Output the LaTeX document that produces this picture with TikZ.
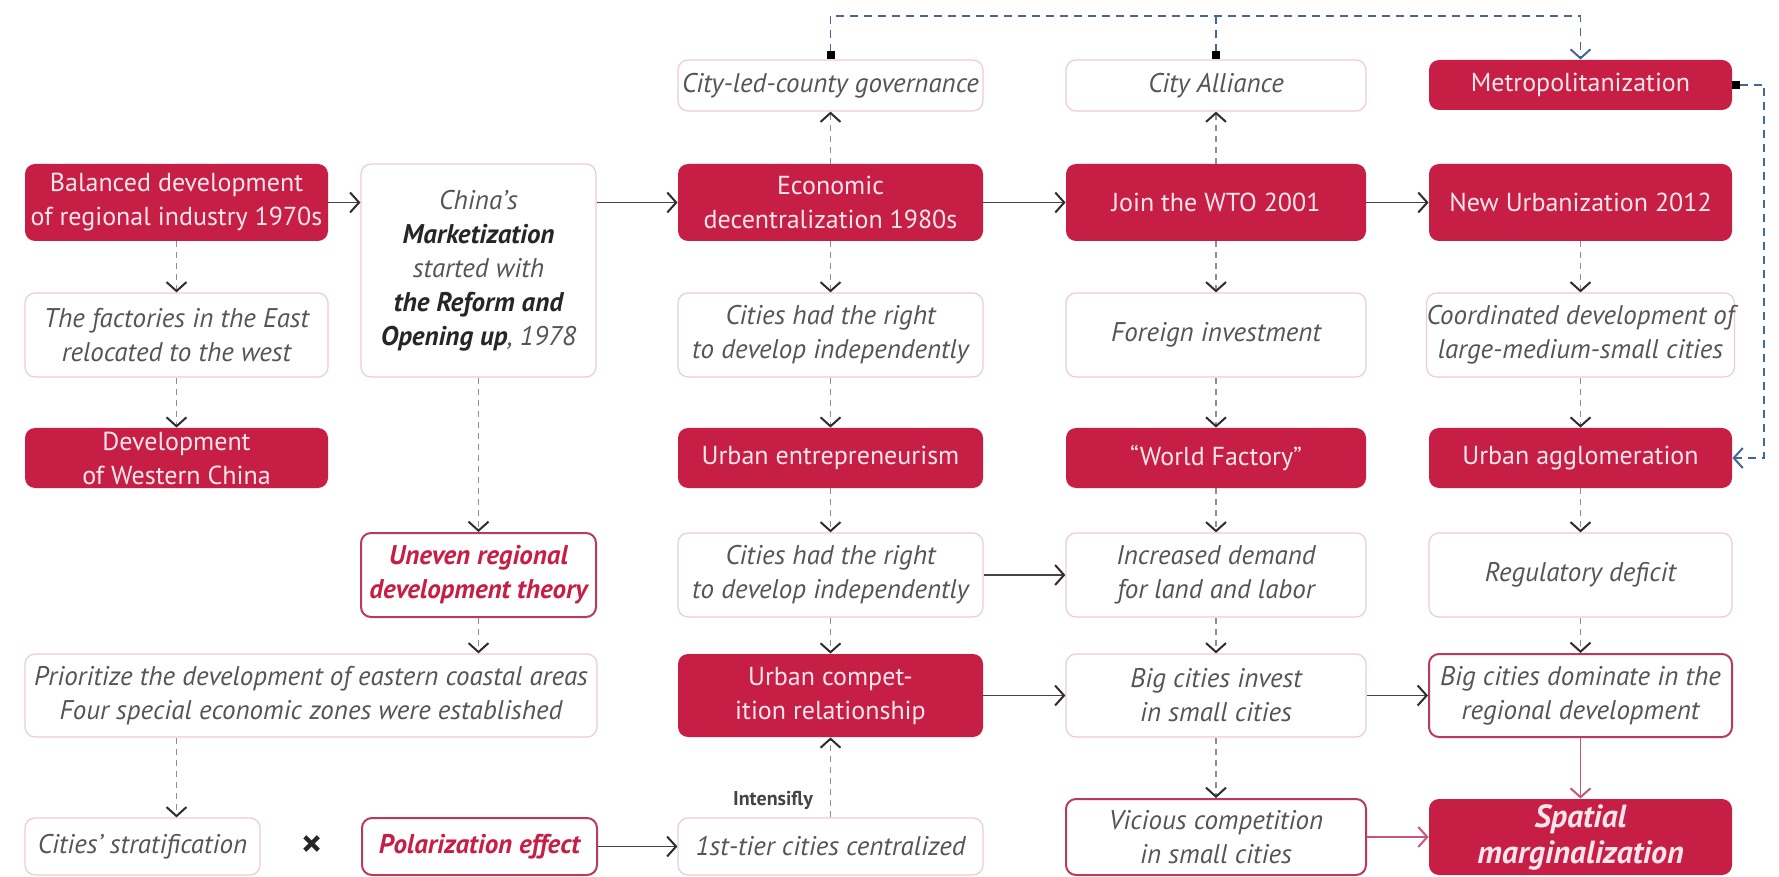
\documentclass[tikz,border=0pt]{standalone}
\usepackage{fontspec}
\setmainfont{PT Sans}
\usetikzlibrary{arrows.meta}
\definecolor{crim}{HTML}{C71E46}
\definecolor{pinkwhite}{HTML}{FBE6EC}
\definecolor{lightpink}{HTML}{EDCCD4}
\definecolor{crimline}{HTML}{B83A5C}
\definecolor{txtgray}{HTML}{555555}
\definecolor{linegray}{HTML}{8E8E8E}
\definecolor{tipgray}{HTML}{2E2E2E}
\definecolor{solidgray}{HTML}{444444}
\definecolor{redline}{HTML}{C8557A}
\definecolor{slate}{HTML}{44679A}
\tikzset{
  base/.style={rounded corners=5pt, align=center, inner sep=0pt, font=\fontsize{13}{17}\selectfont},
  sz/.style 2 args={minimum width=#1*0.5pt, minimum height=#2*0.5pt},
  fbox/.style={base, fill=crim, text=pinkwhite},
  obox/.style={base, draw=lightpink, line width=0.6pt, text=txtgray, font=\fontsize{13.5}{17}\selectfont\itshape},
  ebox/.style={base, draw=crimline, line width=1pt, text=txtgray, font=\fontsize{13.5}{17}\selectfont\itshape},
  eboxr/.style={ebox, text=crim, font=\fontsize{13.5}{17}\selectfont\itshape\bfseries},
  sarrow/.style={draw=solidgray, line width=0.8pt, -{Straight Barb[length=4.5pt,width=10pt,line width=1pt,color=tipgray]}},
  rarrow/.style={draw=redline, line width=0.9pt, -{Straight Barb[length=4.5pt,width=10pt,line width=1pt,color=redline]}},
  darrow/.style={draw=linegray, line width=0.9pt, dash pattern=on 3pt off 2.5pt, -{Straight Barb[length=4.5pt,width=10pt,line width=1pt,color=tipgray]}},
  bdash/.style={draw=slate, line width=0.9pt, dash pattern=on 4pt off 3pt},
  dot/.style={{Square[length=4pt,width=4pt,color=black]}-},
  dotbtip/.style={{Square[length=4pt,width=4pt,color=black]}-{Straight Barb[length=4.5pt,width=10pt,line width=1pt,color=slate]}}
}
\begin{document}
\begin{tikzpicture}[x=0.5pt,y=-0.5pt]
\useasboundingbox[fill=white] (0,0) rectangle (1779,877);

% column 1 and 2
\node[fbox, sz={303}{77}] (bal) at (176.5,202.5) {Balanced development\\of regional industry 1970s};
\node[obox, sz={235}{213}] (china) at (478.5,270.5) {China's\\{\color{black!85}\bfseries Marketization}\\started with\\{\color{black!85}\bfseries the Reform and}\\{\color{black!85}\bfseries Opening up}, 1978};
\node[obox, sz={303}{84}] (fac) at (176.5,335) {The factories in the East\\relocated to the west};
\node[fbox, sz={303}{60}] (dev) at (176.5,458) {Development\\of Western China};
\node[eboxr, sz={235}{84}] (unev) at (478.5,575) {Uneven regional\\development theory};
\node[obox, sz={572}{83}] (prio) at (311,695.5) {Prioritize the development of eastern coastal areas\\Four special economic zones were established};
\node[obox, sz={235}{57}] (strat) at (142.5,846.5) {Cities' stratification};
\node[text=black!85, font=\fontsize{20}{20}\selectfont\bfseries] (times) at (312,846.5) {×};
\node[eboxr, sz={235}{57}] (pol) at (479.5,846.5) {Polarization effect};

% column 3
\node[obox, sz={305}{51}] (cl) at (830.5,85.5) {City-led-county governance};
\node[fbox, sz={305}{77}] (eco) at (830.5,202.5) {Economic\\decentralization 1980s};
\node[obox, sz={305}{84}] (right1) at (830.5,335) {Cities had the right\\to develop independently};
\node[fbox, sz={305}{60}] (entre) at (830.5,458) {Urban entrepreneurism};
\node[obox, sz={305}{84}] (right2) at (830.5,575) {Cities had the right\\to develop independently};
\node[fbox, sz={305}{83}] (comp) at (830.5,695.5) {Urban compet-\\ition relationship};
\node[obox, sz={305}{57}] (tier) at (830.5,846.5) {1st-tier cities centralized};
\node[text=txtgray!80!black, font=\fontsize{10}{11}\selectfont\bfseries] (int) at (773,800) {Intensifly};

% column 4
\node[obox, sz={300}{51}] (ca) at (1216,85.5) {City Alliance};
\node[fbox, sz={300}{77}] (wto) at (1216,202.5) {Join the WTO 2001};
\node[obox, sz={300}{84}] (fdi) at (1216,335) {Foreign investment};
\node[fbox, sz={300}{60}] (wf) at (1216,458) {“World Factory”};
\node[obox, sz={300}{84}] (dem) at (1216,575) {Increased demand\\for land and labor};
\node[obox, sz={300}{83}] (inv) at (1216,695.5) {Big cities invest\\in small cities};
\node[ebox, sz={300}{76}] (vic) at (1216,837) {Vicious competition\\in small cities};

% column 5
\node[fbox, sz={303}{50}] (met) at (1580.5,85) {Metropolitanization};
\node[fbox, sz={303}{77}] (nu) at (1580.5,202.5) {New Urbanization 2012};
\node[obox, sz={303}{84}] (coord) at (1580.5,335) {Coordinated development of\\large-medium-small cities};
\node[fbox, sz={303}{60}] (agg) at (1580.5,458) {Urban agglomeration};
\node[obox, sz={303}{84}] (reg) at (1580.5,575) {Regulatory deficit};
\node[ebox, sz={303}{83}] (dom) at (1580.5,695.5) {Big cities dominate in the\\regional development};
\node[fbox, sz={303}{76}, font=\fontsize{16}{18}\selectfont\itshape\bfseries] (spat) at (1580.5,837) {Spatial\\marginalization};

\coordinate (top) at (0,16);
\coordinate (rx) at (1764,0);

% solid arrows
\draw[sarrow] (bal.east) -- (bal.east -| china.west);
\draw[sarrow] (china.east |- eco.west) -- (eco.west);
\draw[sarrow] (eco) -- (wto);
\draw[sarrow] (wto) -- (nu);
\draw[sarrow] (right2) -- (dem);
\draw[sarrow] (comp) -- (inv);
\draw[sarrow] (inv) -- (dom);
\draw[sarrow] (pol) -- (tier);
\draw[rarrow] (vic) -- (spat);
\draw[rarrow] (dom) -- (spat);

% dashed arrows
\draw[darrow] (bal) -- (fac);
\draw[darrow] (fac) -- (dev);
\draw[darrow] (china) -- (unev);
\draw[darrow] (unev.south) -- (unev.south |- prio.north);
\draw[darrow] (prio.south -| bal.south) -- (bal.south |- strat.north);
\draw[darrow] (eco) -- (cl);
\draw[darrow] (eco) -- (right1);
\draw[darrow] (right1) -- (entre);
\draw[darrow] (entre) -- (right2);
\draw[darrow] (right2) -- (comp);
\draw[darrow] (tier) -- (comp);
\draw[darrow] (wto) -- (ca);
\draw[darrow] (wto) -- (fdi);
\draw[darrow] (fdi) -- (wf);
\draw[darrow] (wf) -- (dem);
\draw[darrow] (dem) -- (inv);
\draw[darrow] (inv) -- (vic);
\draw[darrow] (nu) -- (coord);
\draw[darrow] (coord) -- (agg);
\draw[darrow] (agg) -- (reg);
\draw[darrow] (reg) -- (dom);

% blue feedback lines
\draw[bdash, dot] (ca.north) -- (ca.north |- top);
\draw[bdash, dotbtip] (cl.north) -- (cl.north |- top) -| (met.north);
\draw[bdash, dotbtip] (met.east) -- (met.east -| rx) |- (agg.east);
\end{tikzpicture}
\end{document}
